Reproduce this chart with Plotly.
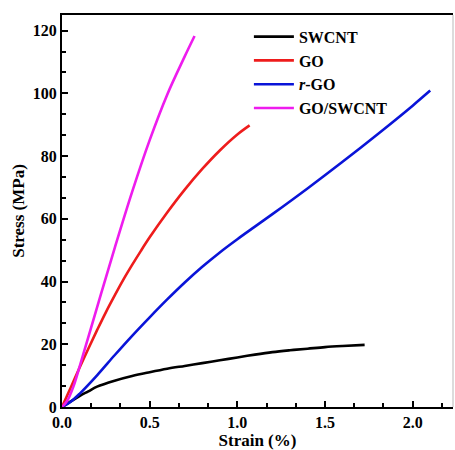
import plotly.graph_objects as go

# Data
swcnt_strain = [0.0, 0.05, 0.1, 0.15, 0.2, 0.3, 0.4, 0.5, 0.6, 0.7, 0.8, 0.9, 1.0, 1.1, 1.2, 1.3, 1.4, 1.5, 1.6, 1.726]
swcnt_stress = [0.0, 1.8, 3.5, 5.0, 6.5, 8.4, 9.9, 11.1, 12.2, 13.1, 14.0, 14.9, 15.8, 16.7, 17.5, 18.1, 18.6, 19.1, 19.45, 19.8]

go_strain = [0.0, 0.05, 0.1, 0.15, 0.2, 0.25, 0.3, 0.35, 0.4, 0.45, 0.5, 0.6, 0.7, 0.8, 0.9, 1.0, 1.07]
go_stress = [0.0, 6.2, 12.5, 18.6, 24.5, 30.2, 35.5, 40.6, 45.3, 49.8, 54.1, 62.0, 69.3, 75.9, 81.8, 86.9, 89.8]

rgo_strain = [0.0, 0.05, 0.1, 0.2, 0.3, 0.4, 0.5, 0.6, 0.7, 0.8, 0.9, 1.0, 1.1, 1.2, 1.4, 1.6, 1.8, 2.0, 2.1]
rgo_stress = [0.0, 1.7, 4.2, 10.1, 16.5, 22.7, 28.6, 34.3, 39.7, 44.7, 49.3, 53.5, 57.5, 61.5, 69.7, 78.2, 87.0, 96.1, 100.9]

gs_strain = [0.0, 0.03, 0.065, 0.1, 0.2, 0.3, 0.4, 0.5, 0.6, 0.7, 0.756]
gs_stress = [0.0, 2.0, 6.5, 12.8, 31.8, 50.6, 68.6, 85.1, 99.6, 111.8, 118.3]

series_names = ["SWCNT", "GO", "<i>r</i>-GO", "GO/SWCNT"]
series_colors = ["#000000", "#ee1c1c", "#0a14d8", "#ee1cee"]
series_x = [swcnt_strain, go_strain, rgo_strain, gs_strain]
series_y = [swcnt_stress, go_stress, rgo_stress, gs_stress]

x_tickvals = [0.0, 0.5, 1.0, 1.5, 2.0]
x_ticktext = ["0.0", "0.5", "1.0", "1.5", "2.0"]
y_tickvals = [0, 20, 40, 60, 80, 100, 120]

FONT = "Liberation Serif"

fig = go.Figure()
for name, color, xs, ys in zip(series_names, series_colors, series_x, series_y):
    fig.add_trace(go.Scatter(
        x=xs, y=ys, mode="lines", name=name,
        line=dict(color=color, width=2.6, shape="spline", smoothing=1.0),
    ))

fig.update_layout(
    width=455, height=450,
    margin=dict(l=62, r=2, t=15, b=43, autoexpand=False),
    paper_bgcolor="white", plot_bgcolor="white",
    font=dict(family=FONT, size=16, color="black"),
    showlegend=True,
    legend=dict(
        x=0.478, y=0.988, xanchor="left", yanchor="top",
        bgcolor="rgba(0,0,0,0)", borderwidth=0,
        font=dict(family=FONT, size=16, color="black", weight="bold"),
        itemwidth=40,
    ),
    xaxis=dict(
        range=[0, 2.23], tickvals=x_tickvals, ticktext=x_ticktext,
        showgrid=False, zeroline=False, automargin=False,
        showline=True, linecolor="black", linewidth=2, mirror=True,
        ticks="inside", ticklen=6, tickwidth=1.5, tickcolor="black",
        minor=dict(dtick=0.5 / 3, tick0=0, ticks="inside", ticklen=4, tickwidth=1.5, tickcolor="black", showgrid=False),
        tickfont=dict(family=FONT, size=16, color="black", weight="bold"),
        title=dict(text="Strain (%)", font=dict(family=FONT, size=17, color="black", weight="bold"), standoff=0),
    ),
    yaxis=dict(
        range=[0, 125], tickvals=y_tickvals,
        showgrid=False, zeroline=False, automargin=False,
        showline=True, linecolor="black", linewidth=2, mirror=False,
        ticks="inside", ticklen=6, tickwidth=1.5, tickcolor="black",
        minor=dict(dtick=20 / 3, tick0=0, ticks="inside", ticklen=4, tickwidth=1.5, tickcolor="black", showgrid=False),
        tickfont=dict(family=FONT, size=16, color="black", weight="bold"),
        title=dict(text="Stress (MPa)", font=dict(family=FONT, size=17, color="black", weight="bold"), standoff=4),
    ),
    shapes=[dict(type="line", xref="paper", yref="paper", x0=1, x1=1, y0=0, y1=1,
                 line=dict(color="#d0d0d0", width=1.5))],
)

fig.write_html("out.html", config={"displayModeBar": False},
               post_script="document.body.style.margin='0';")
